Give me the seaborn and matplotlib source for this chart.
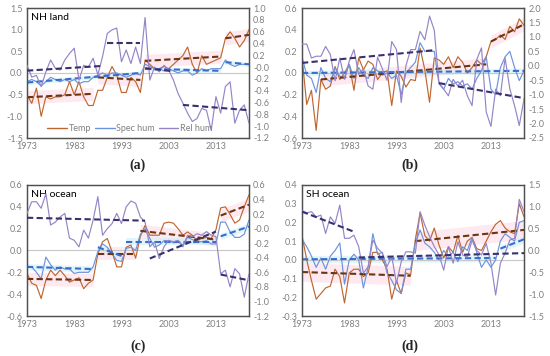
import numpy as np
import pandas as pd
import matplotlib
matplotlib.use("Agg")
import matplotlib.pyplot as plt
from matplotlib.lines import Line2D
import seaborn as sns

years = list(range(1973, 2021))

# ---- Panel (a) NH land ----
a_temp = [-0.5, -0.7, -0.35, -1.0, -0.55, -0.6, -0.55, -0.55, -0.5, -0.2,
          -0.5, -0.2, -0.55, -0.75, -0.75, -0.4, -0.4, -0.1, 0.15, -0.05,
          -0.45, -0.45, -0.1, -0.2, -0.45, 0.3, 0.2, 0.1, 0.1, 0.15,
          0.1, 0.2, 0.3, 0.4, 0.6, 0.2, 0.0, 0.4, 0.2, 0.25,
          0.3, 0.35, 0.8, 0.95, 0.8, 0.6, 0.75, 1.0]
a_spec = [-0.2, -0.15, -0.2, -0.3, -0.2, -0.1, -0.15, -0.2, -0.15, -0.2,
          -0.15, -0.25, -0.2, -0.2, -0.1, -0.05, 0.0, -0.05, 0.0, 0.0,
          -0.05, -0.1, -0.05, 0.0, -0.05, 0.2, 0.15, 0.1, 0.1, 0.05,
          0.1, 0.05, 0.0, 0.05, 0.05, -0.05, 0.0, 0.1, 0.05, 0.1,
          0.1, 0.1, 0.3, 0.2, 0.15, 0.2, 0.2, 0.2]
a_rel = [0.03, -0.17, -0.14, -0.33, -0.08, 0.12, -0.02, -0.05, 0.12, 0.23,
         0.32, -0.22, 0.03, 0.0, 0.15, -0.13, 0.18, 0.57, 0.63, 0.66,
         0.09, 0.29, 0.06, 0.34, 0.06, 0.84, -0.22, 0.0, -0.08, 0.03,
         -0.05, -0.22, -0.45, -0.61, -0.78, -0.92, -0.87, -0.7, -0.73, -1.07,
         -0.5, -0.78, -0.33, -0.25, -0.95, -0.73, -0.64, -0.95]
a_temp_trend = [(1973, 1987, -0.56, -0.48), (1988, 1997, -0.1, -0.16),
                (1998, 2014, 0.28, 0.38), (2015, 2020, 0.8, 0.88)]
a_spec_trend = [(1973, 1997, -0.22, 0.0), (1998, 2014, 0.1, 0.05), (2015, 2020, 0.25, 0.2)]
a_rel_trend = [(1973, 1989, -0.06, 0.02), (1990, 1997, 0.41, 0.41),
               (1998, 2004, -0.02, -0.07), (2006, 2020, -0.64, -0.73)]

# ---- Panel (b) ----
b_temp = [0.15, -0.29, -0.16, -0.53, -0.06, -0.15, -0.12, 0.06, -0.06, 0.0,
          0.08, -0.16, 0.14, 0.03, 0.11, 0.08, -0.06, 0.0, 0.02, -0.3,
          0.02, -0.03, -0.13, -0.06, -0.07, 0.23, 0.03, -0.27, 0.14, 0.12,
          0.08, 0.15, 0.05, 0.15, 0.1, 0.0, 0.05, 0.12, 0.08, 0.15,
          0.29, 0.31, 0.35, 0.31, 0.43, 0.38, 0.5, 0.44]
b_spec = [0.15, -0.02, -0.05, -0.18, 0.05, -0.05, -0.08, 0.05, -0.03, -0.05,
          0.08, -0.05, 0.05, -0.02, -0.05, 0.05, 0.02, -0.02, 0.0, -0.05,
          -0.02, -0.2, 0.0, 0.05, 0.1, 0.28, 0.2, 0.2, 0.2, -0.1,
          -0.15, -0.05, -0.1, -0.08, -0.12, -0.1, -0.15, -0.05, 0.02, 0.15,
          -0.15, -0.2, 0.05, 0.15, 0.2, 0.05, -0.07, 0.02]
b_rel = [0.75, 0.75, 0.27, 0.33, 0.33, 0.67, 0.39, -0.52, 0.27, -0.47,
         0.16, 0.56, -0.3, -0.1, -0.7, -0.81, 0.3, -0.1, -0.5, 0.84,
         0.56, -1.27, 0.0, 0.56, 0.56, 1.19, 0.9, 1.72, 1.24, -0.58,
         -0.81, -1.04, -0.47, -0.7, -0.5, -1.04, -1.38, 0.22, 0.62, -1.6,
         -2.1, -0.81, -1.04, 0.27, -0.8, -1.38, -2.07, -1.15]
b_temp_trend = [(1977, 2012, -0.06, 0.08), (2013, 2020, 0.29, 0.45)]
b_spec_trend = [(1973, 2020, 0.0, 0.02)]
b_rel_trend = [(1973, 2001, 0.1, 0.54), (2002, 2020, -0.6, -1.12)]

# ---- Panel (c) NH ocean ----
c_temp = [-0.21, -0.30, -0.32, -0.44, -0.27, -0.18, -0.23, -0.18, -0.23, -0.29,
          -0.27, -0.25, -0.35, -0.3, -0.27, -0.03, 0.08, 0.11, -0.01, -0.15,
          -0.15, 0.03, 0.05, -0.07, 0.13, 0.23, 0.14, 0.14, 0.14, 0.25,
          0.26, 0.25, 0.2, 0.14, 0.17, 0.14, 0.09, 0.11, 0.12, 0.11,
          0.19, 0.39, 0.40, 0.33, 0.25, 0.28, 0.40, 0.51]
c_spec = [-0.15, -0.15, -0.2, -0.26, -0.06, -0.13, -0.18, -0.15, -0.17, -0.17,
          -0.21, -0.2, -0.2, -0.2, -0.15, -0.01, 0.06, 0.03, -0.03, -0.09,
          -0.1, 0.02, 0.03, 0.0, 0.15, 0.2, 0.11, 0.03, 0.05, 0.09,
          0.09, 0.07, 0.08, 0.05, 0.12, 0.1, 0.08, 0.08, 0.09, 0.06,
          0.06, 0.26, 0.26, 0.17, 0.12, 0.12, 0.15, 0.28]
c_rel = [0.21, 0.37, 0.37, 0.28, 0.48, 0.05, 0.09, 0.16, 0.21, -0.13,
         -0.16, -0.25, -0.02, -0.13, 0.12, 0.44, -0.09, 0.0, 0.07, 0.21,
         0.07, 0.3, 0.38, 0.35, 0.16, 0.09, -0.25, -0.18, -0.41, -0.25,
         -0.16, -0.18, -0.16, -0.25, -0.09, -0.11, -0.07, -0.09, -0.04, -0.09,
         -0.11, -0.62, -0.57, -0.8, -0.55, -0.62, -0.94, -0.62]
c_temp_trend = [(1973, 1987, -0.26, -0.27), (1988, 1996, -0.03, -0.03),
                (1997, 2013, 0.18, 0.1), (2014, 2020, 0.32, 0.42)]
c_spec_trend = [(1973, 1987, -0.15, -0.17), (1988, 1993, 0.03, -0.05),
                (1994, 2013, 0.08, 0.08), (2014, 2020, 0.13, 0.22)]
c_rel_trend = [(1973, 1998, 0.15, 0.11), (1999, 2013, -0.41, -0.04), (2014, 2020, -0.63, -0.71)]

# ---- Panel (d) SH ocean ----
d_temp = [0.13, 0.0, -0.11, -0.21, -0.18, -0.15, -0.14, -0.05, -0.09, -0.23,
          -0.07, -0.05, -0.05, -0.09, -0.07, 0.04, 0.04, 0.0, -0.05, -0.21,
          -0.11, -0.18, -0.07, -0.08, 0.11, 0.25, 0.13, 0.1, 0.17, 0.08,
          0.01, 0.07, 0.04, 0.13, 0.04, 0.1, 0.12, 0.06, 0.05, 0.1,
          0.15, 0.19, 0.21, 0.17, 0.15, 0.14, 0.3, 0.23]
d_spec = [0.11, 0.07, 0.02, -0.04, 0.01, -0.05, 0.02, 0.05, 0.09, -0.13,
          0.0, 0.03, 0.0, -0.15, -0.04, 0.14, 0.03, 0.04, -0.07, -0.11,
          -0.16, -0.18, -0.05, -0.05, 0.09, 0.16, 0.09, 0.07, 0.04, 0.0,
          0.05, 0.02, 0.04, -0.01, 0.07, 0.05, 0.12, 0.04, -0.04, 0.0,
          -0.04, 0.0, 0.1, 0.14, 0.12, 0.1, 0.2, 0.21]
d_rel = [0.92, 0.86, 0.89, 0.77, 0.81, 0.39, 0.77, 0.62, 1.04, 0.28,
         0.28, 0.35, 0.09, -0.52, -0.37, 0.24, 0.05, -0.06, -0.37, -0.14,
         -0.75, -0.26, -0.03, -0.03, -0.06, 0.89, 0.58, 0.32, 0.09, -0.1,
         -0.45, 0.09, -0.29, 0.2, -0.1, -0.15, 0.24, 0.0, -0.1, 0.16,
         -0.29, -1.02, -0.29, -0.06, 0.24, 0.28, 1.17, 0.89]
d_temp_trend = [(1973, 1996, -0.065, -0.085), (1997, 2020, 0.1, 0.16)]
d_spec_trend = [(1973, 2014, 0.003, 0.01), (2015, 2020, 0.06, 0.11)]
d_rel_trend = [(1973, 1984, 0.89, 0.43), (1985, 2020, -0.16, -0.06)]

xtick_years = [1973, 1983, 1993, 2003, 2013]
series_names = ["Temp", "Spec hum", "Rel hum"]
titles = ["NH land", "", "NH ocean", "SH ocean"]
labels = ["(a)", "(b)", "(c)", "(d)"]

C_T, C_S, C_R = "#bf6630", "#6d93dc", "#9585c8"
C_TT, C_ST, C_RT = "#6b3412", "#3a6ccc", "#3b2f6c"
TICKC = "#808080"

sns.set_style("white")
plt.rcParams['font.family'] = ['Lato', 'DejaVu Sans']
plt.rcParams['axes.unicode_minus'] = False

fig = plt.figure(figsize=(5.5, 3.56), dpi=100)
W, H = 550, 356


def rect(l, r, t, b):
    return [l / W, 1 - b / H, (r - l) / W, (b - t) / H]


panels = [
    dict(rect=rect(27, 249, 8, 138), temp=a_temp, spec=a_spec, rel=a_rel,
         tt=a_temp_trend, st=a_spec_trend, rt=a_rel_trend,
         yl=(-1.5, 1.5), ys=0.5, ryl=(-1.2, 1.0), rys=0.2, tb=0.15, sb=0.05,
         lab_xy=(138, 165)),
    dict(rect=rect(302, 524, 8, 138), temp=b_temp, spec=b_spec, rel=b_rel,
         tt=b_temp_trend, st=b_spec_trend, rt=b_rel_trend,
         yl=(-0.6, 0.6), ys=0.2, ryl=(-2.5, 2.0), rys=0.5, tb=0.06, sb=0.025,
         lab_xy=(410, 165)),
    dict(rect=rect(27, 249, 185, 316), temp=c_temp, spec=c_spec, rel=c_rel,
         tt=c_temp_trend, st=c_spec_trend, rt=c_rel_trend,
         yl=(-0.6, 0.6), ys=0.2, ryl=(-1.2, 0.6), rys=0.2, tb=0.06, sb=0.03,
         lab_xy=(138, 346)),
    dict(rect=rect(302, 524, 185, 316), temp=d_temp, spec=d_spec, rel=d_rel,
         tt=d_temp_trend, st=d_spec_trend, rt=d_rel_trend,
         yl=(-0.3, 0.4), ys=0.1, ryl=(-1.5, 1.5), rys=0.5, tb=0.05, sb=0.02,
         lab_xy=(410, 346)),
]

for i, p in enumerate(panels):
    ax = fig.add_axes(p["rect"])
    ax2 = ax.twinx()
    df = pd.DataFrame({"year": years, "Temp": p["temp"], "Spec hum": p["spec"], "Rel hum": p["rel"]})

    ax.axhline(0, color="#c8c8c8", lw=0.8, zorder=1)
    for (y0, y1, v0, v1) in p["tt"]:
        ax.fill_between([y0, y1], [v0 - p["tb"], v1 - p["tb"]], [v0 + p["tb"], v1 + p["tb"]],
                        color="#fbd0dc", alpha=0.45, lw=0, zorder=0.5)
    for (y0, y1, v0, v1) in p["st"]:
        ax.fill_between([y0, y1], [v0 - p["sb"], v1 - p["sb"]], [v0 + p["sb"], v1 + p["sb"]],
                        color="#c6eff6", alpha=0.5, lw=0, zorder=0.6)

    sns.lineplot(data=df, x="year", y="Temp", ax=ax, color=C_T, lw=0.85, zorder=3)
    sns.lineplot(data=df, x="year", y="Spec hum", ax=ax, color=C_S, lw=0.85, zorder=3)
    sns.lineplot(data=df, x="year", y="Rel hum", ax=ax2, color=C_R, lw=0.85, zorder=3)

    for (y0, y1, v0, v1) in p["tt"]:
        ax.plot([y0, y1], [v0, v1], color=C_TT, lw=1.5, ls=(0, (3, 1.6)), zorder=4)
    for (y0, y1, v0, v1) in p["st"]:
        ax.plot([y0, y1], [v0, v1], color=C_ST, lw=1.5, ls=(0, (3, 1.6)), zorder=4)
    for (y0, y1, v0, v1) in p["rt"]:
        ax2.plot([y0, y1], [v0, v1], color=C_RT, lw=1.5, ls=(0, (3, 1.6)), zorder=4)

    ax.set_xlim(1973, 2020)
    ax.set_xticks(xtick_years)
    ax.set_ylim(*p["yl"])
    ax.set_yticks(np.round(np.arange(p["yl"][0], p["yl"][1] + 1e-9, p["ys"]), 2))
    ax2.set_ylim(*p["ryl"])
    ax2.set_yticks(np.round(np.arange(p["ryl"][0], p["ryl"][1] + 1e-9, p["rys"]), 2))
    ax.yaxis.set_major_formatter(matplotlib.ticker.StrMethodFormatter("{x:.1f}"))
    ax2.yaxis.set_major_formatter(matplotlib.ticker.StrMethodFormatter("{x:.1f}"))
    for a in (ax, ax2):
        a.set_xlabel("")
        a.set_ylabel("")
        a.tick_params(length=0, labelsize=6.5, labelcolor=TICKC, pad=3)
        for s in a.spines.values():
            s.set_color("#505050")
            s.set_linewidth(0.9)
    if titles[i]:
        ax.text(0.02, 0.93, titles[i], transform=ax.transAxes, fontsize=7.5,
                color="black", va="center", ha="left")
    fig.text(p["lab_xy"][0] / W, 1 - p["lab_xy"][1] / H, labels[i],
             fontfamily="Liberation Serif", fontweight="bold", fontsize=10,
             ha="center", va="center")
    if i == 0:
        handles = [Line2D([], [], color=c, lw=1.0) for c in (C_T, C_S, C_R)]
        leg = ax2.legend(handles, series_names, loc="center left", bbox_to_anchor=(0.07, 0.07),
                         ncol=3, frameon=False, fontsize=6.5, handlelength=2.2,
                         columnspacing=0.4, handletextpad=0.2, borderpad=0, labelcolor=TICKC)

fig.savefig("out.png", dpi=100)
